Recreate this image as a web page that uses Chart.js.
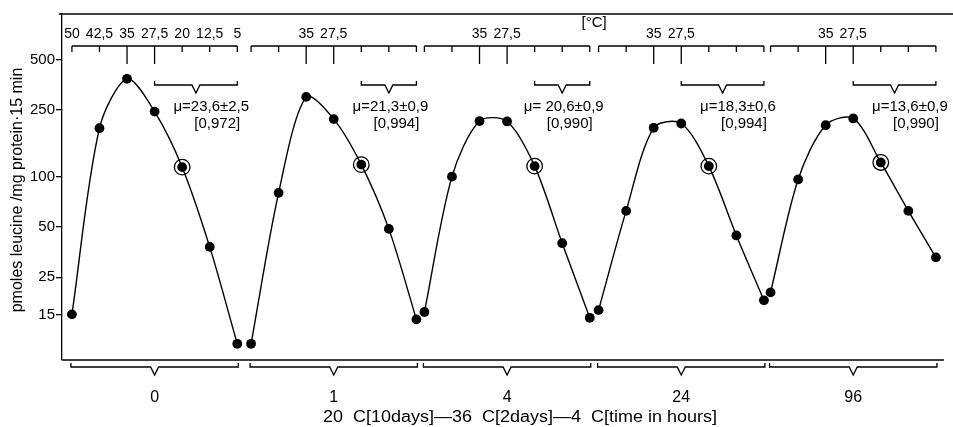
<!DOCTYPE html>
<html>
<head>
<meta charset="utf-8">
<script src="https://cdn.jsdelivr.net/npm/chart.js@4.4.1/dist/chart.umd.min.js"></script>
<style>
  body { margin: 0; background: #fff; }
  #uptakeChart { display: block; }
</style>
</head>
<body>
<canvas id="uptakeChart" width="953" height="427"></canvas>
<script>
// incubation temperatures, same order in every block
const temperatures = [50, 42.5, 35, 27.5, 20, 12.5, 5];
const tempLabels = ['50', '42,5', '35', '27,5', '20', '12,5', '5'];
// hours at 4 C after the 36 C shift, one block each
const hourLabels = ['0', '1', '4', '24', '96'];
// where each block starts along the x axis (in temperature steps)
const blockStart = [0.36, 6.86, 13.15, 19.47, 25.71];

// pmoles leucine / mg protein / 15 min
const uptake0h = [15, 195, 385, 245, 114, 38, 10];
const uptake1h = [10, 80, 300, 221, 118, 48.7, 14];
const uptake4h = [15.5, 100, 215, 214, 115.6, 40, 14.3];
const uptake24h = [15.9, 62.4, 196, 208, 115.6, 44.5, 18.2];
const uptake96h = [20.3, 96.2, 203, 223, 121.6, 62.4, 32.9];
const blocks = [uptake0h, uptake1h, uptake4h, uptake24h, uptake96h];

const muLabels = ['\u03bc=23,6\u00b12,5', '\u03bc=21,3\u00b10,9', '\u03bc= 20,6\u00b10,9', '\u03bc=18,3\u00b10,6', '\u03bc=13,6\u00b10,9'];
const rLabels = ['[0,972]', '[0,994]', '[0,990]', '[0,994]', '[0,990]'];
const muFrom = [27.5, 20, 20, 27.5, 27.5];
const ringTemp = 20;

const yTicks = [15, 25, 50, 100, 250, 500];

const FONT = "'Liberation Sans', Arial, sans-serif";

function xOf(block, t) {
  return blockStart[block] + (50 - t) / 7.5;
}

const datasets = blocks.map((vals, b) => ({
  data: vals.map((v, i) => ({ x: xOf(b, temperatures[i]), y: v })),
  borderColor: '#000',
  borderWidth: 1.4,
  tension: 0.3,
  pointRadius: 4.9,
  pointBackgroundColor: '#000',
  pointBorderWidth: 0,
  clip: false
}));

// open ring round the 20 C point of each block
datasets.push({
  type: 'scatter',
  data: blocks.map((vals, b) => ({ x: xOf(b, ringTemp), y: vals[temperatures.indexOf(ringTemp)] })),
  showLine: false,
  pointRadius: 7.8,
  pointBorderWidth: 1.3,
  pointBorderColor: '#000',
  pointBackgroundColor: 'rgba(0,0,0,0)',
  clip: false
});

function bracket(ctx, xa, xb, y, endDy, vDy) {
  const cx = (xa + xb) / 2;
  ctx.beginPath();
  ctx.moveTo(xa, y + endDy);
  ctx.lineTo(xa, y);
  ctx.lineTo(cx - 4, y);
  ctx.lineTo(cx, y + vDy);
  ctx.lineTo(cx + 4, y);
  ctx.lineTo(xb, y);
  ctx.lineTo(xb, y + endDy);
  ctx.stroke();
}

const decorations = {
  id: 'decorations',
  beforeDraw(chart) {
    const ctx = chart.ctx;
    ctx.save();
    ctx.fillStyle = '#fff';
    ctx.fillRect(0, 0, chart.width, chart.height);
    ctx.restore();
  },
  afterDraw(chart) {
    const ctx = chart.ctx;
    const area = chart.chartArea;
    const px = v => chart.scales.x.getPixelForValue(v);
    ctx.save();
    ctx.strokeStyle = '#000';
    ctx.fillStyle = '#000';
    ctx.lineWidth = 1.3;

    // frame top and bottom
    ctx.beginPath();
    ctx.moveTo(area.left - 3, area.top);
    ctx.lineTo(chart.width, area.top);
    ctx.moveTo(area.left, area.bottom);
    ctx.lineTo(area.right, area.bottom);
    ctx.stroke();

    ctx.textAlign = 'center';
    ctx.textBaseline = 'middle';

    blocks.forEach((vals, b) => {
      const xa = px(xOf(b, 50));
      const xb = px(xOf(b, 5));

      // temperature scale above each block
      ctx.beginPath();
      ctx.moveTo(xa, 46);
      ctx.lineTo(xb, 46);
      temperatures.forEach(t => {
        const x = px(xOf(b, t));
        const long = t === 35 || t === 27.5;
        ctx.moveTo(x, 46);
        ctx.lineTo(x, long ? 64 : 52);
      });
      ctx.stroke();
      ctx.font = '14px ' + FONT;
      temperatures.forEach((t, i) => {
        if (b === 0 || t === 35 || t === 27.5) {
          ctx.fillText(tempLabels[i], px(xOf(b, t)), 34);
        }
      });

      // fitted range and growth rate
      bracket(ctx, px(xOf(b, muFrom[b])), xb, 85, -4, 8);
      ctx.font = '15px ' + FONT;
      ctx.fillText(muLabels[b], xb - 26, 107);
      ctx.fillText(rLabels[b], xb - 20, 124);

      // hour bracket under the axis
      bracket(ctx, xa - 1, xb + 1, 367, -4, 8);
      ctx.font = '16px ' + FONT;
      ctx.fillText(hourLabels[b], (xa + xb) / 2, 398);
    });

    ctx.font = '15px ' + FONT;
    ctx.fillText('[\u00b0C]', (px(xOf(2, 5)) + px(xOf(3, 50))) / 2, 23);

    // caption, stretched a little to the width of the five blocks' middle
    const caption = '20  C[10days]\u201436  C[2days]\u20144  C[time in hours]';
    ctx.font = '16px ' + FONT;
    const w = ctx.measureText(caption).width;
    ctx.save();
    ctx.translate(520, 418);
    ctx.scale(394 / w, 1);
    ctx.fillText(caption, 0, 0);
    ctx.restore();

    // y axis title
    ctx.translate(18, 190);
    ctx.rotate(-Math.PI / 2);
    ctx.font = '16px ' + FONT;
    ctx.fillText('pmoles leucine /mg protein\u00b715 min', 0, 0);
    ctx.restore();
  }
};

new Chart(document.getElementById('uptakeChart'), {
  type: 'line',
  data: { datasets },
  plugins: [decorations],
  options: {
    responsive: false,
    animation: false,
    layout: { padding: { left: 0, top: 14, right: 5, bottom: 67 } },
    plugins: { legend: { display: false }, tooltip: { enabled: false } },
    scales: {
      x: { type: 'linear', min: 0, max: 32, display: false },
      y: {
        type: 'logarithmic',
        min: 8,
        max: 940,
        afterFit: scale => { scale.width = 62; },
        afterBuildTicks: scale => { scale.ticks = yTicks.map(v => ({ value: v })); },
        border: { display: true, color: '#000', width: 1.3 },
        grid: { drawOnChartArea: false, drawTicks: true, tickLength: 6, color: '#000', lineWidth: 1.3 },
        ticks: {
          padding: 1,
          color: '#000',
          font: { family: FONT, size: 15 },
          callback: v => String(v)
        }
      }
    }
  }
});
</script>
</body>
</html>
